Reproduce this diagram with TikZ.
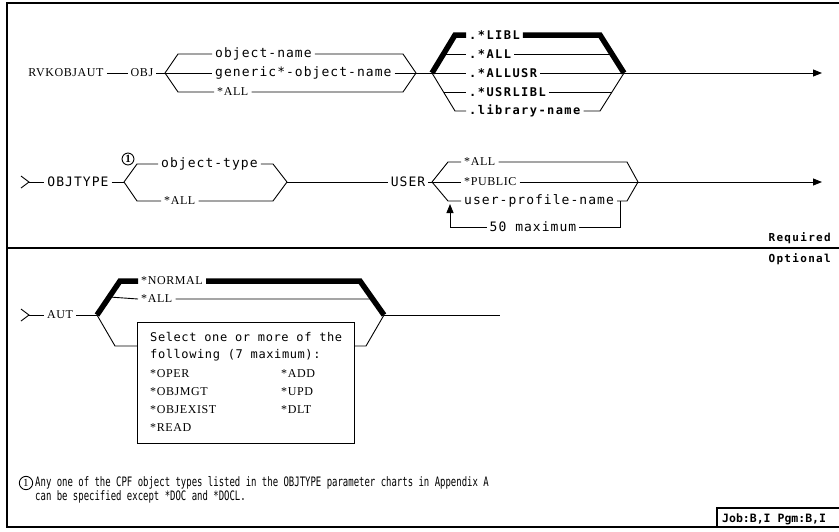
\documentclass[tikz,border=0pt]{standalone}
\usepackage{fontspec}
\setmainfont{Liberation Serif}
\newfontfamily\kwfont{Liberation Serif}[LetterSpace=5]
\newfontfamily\varfont{DejaVu Sans Mono}[LetterSpace=8]
\newfontfamily\boxfont{DejaVu Sans Mono}[LetterSpace=5]
\newfontfamily\dfltfont{DejaVu Sans Mono}[LetterSpace=12]
\newfontfamily\jobfont{DejaVu Sans Mono}
\newfontfamily\notefont{DejaVu Sans Mono}[FakeStretch=0.69]
\usetikzlibrary{arrows.meta, calc}

\begin{document}
\begin{tikzpicture}[x=1pt, y=-1pt,
			rail/.style={line width=0.9pt},
			heavy/.style={line width=5.5pt},
			frame/.style={line width=1.2pt},
			kw/.style={font=\kwfont\fontsize{12}{14}\selectfont, inner sep=3pt},
			var/.style={font=\varfont\fontsize{13}{15}\selectfont, inner sep=3pt},
			dflt/.style={font=\dfltfont\bfseries\fontsize{12}{14}\selectfont, inner sep=3pt},
			sel/.style={font=\boxfont\fontsize{12}{14}\selectfont, inner sep=0pt, anchor=west},
			note/.style={font=\notefont\fontsize{13}{15}\selectfont, inner sep=0pt, anchor=west},
			num/.style={circle, draw, line width=0.9pt, inner sep=1pt, font=\bfseries\fontsize{11}{11}\selectfont},
			>={Triangle[length=9pt,width=7pt]}]
			\useasboundingbox (0,0) rectangle (839,531);
			\clip (0,0) rectangle (839,531);
			% frame and divider
			\draw[frame] (7,3) rectangle (850,527);
			\coordinate (divL) at (7,248);
			\coordinate (divR) at (839,248);
			\draw[frame] (divL) -- (divR);
			\node[font=\dfltfont\bfseries\fontsize{11}{13}\selectfont, anchor=east, inner sep=0pt] (req) at (831,238) {Required};
			\node[font=\dfltfont\bfseries\fontsize{11}{13}\selectfont, anchor=east, inner sep=0pt] (opt) at (831,259) {Optional};

			% RVKOBJAUT -- OBJ
			\node[kw] (cmd) at (66,73) {RVKOBJAUT};
			\node[kw] (obj) at (142,73) {OBJ};
			\coordinate (oL) at (165,73);
			\coordinate (oR) at (416,73);
			\node[var, anchor=west] (oname) at (212,54) {object-name};
			\node[var, anchor=west] (ogen) at (212,73) {generic*-object-name};
			\node[kw, anchor=west] (oall) at (214,92) {*ALL};
			\draw[rail] (cmd) -- (obj);
			\draw[rail] (obj) -- (oL);
			\draw[rail] (oL) -- (178,54) -- (oname.west);
			\draw[rail] (oname.east) -- (403,54) -- (oR);
			\draw[rail] (oL) -- (ogen.west);
			\draw[rail] (ogen.east) -- (oR);
			\draw[rail] (oL) -- (178,92) -- (oall.west);
			\draw[rail] (oall.east) -- (403,92) -- (oR);

			% library qualifier
			\coordinate (lL) at (432,73);
			\coordinate (lR) at (624,73);
			\coordinate (lTL) at (455,35);
			\coordinate (lTR) at (600,35);
			\coordinate (lBL) at (455,111);
			\coordinate (lBR) at (600,111);
			\node[dflt, anchor=west] (libl) at (466,35) {.*LIBL};
			\node[dflt, anchor=west] (lall) at (466,54) {.*ALL};
			\node[dflt, anchor=west] (lallusr) at (466,73) {.*ALLUSR};
			\node[dflt, anchor=west] (lusr) at (466,92) {.*USRLIBL};
			\node[dflt, anchor=west] (lname) at (466,111) {.library-name};
			\draw[rail] (oR) -- (lL);
			\draw[heavy] (lL) -- (lTL) -- (libl.west);
			\draw[heavy] (libl.east) -- (lTR) -- (lR);
			\draw[rail] ($(lL)!.5!(lTL)$) -- (lall.west);
			\draw[rail] (lall.east) -- ($(lTR)!.5!(lR)$);
			\draw[rail] (lL) -- (lallusr.west);
			\draw[rail] (lallusr.east) -- (lR);
			\draw[rail] ($(lL)!.5!(lBL)$) -- (lusr.west);
			\draw[rail] (lusr.east) -- ($(lBR)!.5!(lR)$);
			\draw[rail] (lL) -- (lBL) -- (lname.west);
			\draw[rail] (lname.east) -- (lBR) -- (lR);
			\coordinate (end1) at (822,73);
			\draw[rail,->] (lR) -- (end1);

			% OBJTYPE
			\coordinate (s2) at (29,182);
			\draw[rail] (21,176) -- (s2) -- (21,188);
			\node[var] (otype) at (78,182) {OBJTYPE};
			\coordinate (tL) at (124,182);
			\coordinate (tR) at (287,182);
			\node[num] (fn) at (128,159) {1};
			\node[var, anchor=west] (ttype) at (158,164) {object-type};
			\node[kw, anchor=west] (tall) at (161,201) {*ALL};
			\draw[rail] (s2) -- (otype);
			\draw[rail] (otype) -- (tL);
			\draw[rail] (tL) -- (137,164) -- (ttype.west);
			\draw[rail] (ttype.east) -- (273,164) -- (tR);
			\draw[rail] (tL) -- (137,201) -- (tall.west);
			\draw[rail] (tall.east) -- (273,201) -- (tR);

			% USER
			\node[var] (user) at (408,182) {USER};
			\coordinate (uL) at (432,182);
			\coordinate (uR) at (638,182);
			\node[kw, anchor=west] (uall) at (461,162) {*ALL};
			\node[kw, anchor=west] (upub) at (461,182) {*PUBLIC};
			\node[var, anchor=west] (uprf) at (461,201) {user-profile-name};
			\node[var] (umax) at (533,227) {50 maximum};
			\draw[rail] (tR) -- (user);
			\draw[rail] (user) -- (uL);
			\draw[rail] (uL) -- (448,162) -- (uall.west);
			\draw[rail] (uall.east) -- (627,162) -- (uR);
			\draw[rail] (uL) -- (upub.west);
			\draw[rail] (upub.east) -- (uR);
			\draw[rail] (uL) -- (448,201) -- (uprf.west);
			\draw[rail] (uprf.east) -- (627,201) -- (uR);
			\coordinate (rep) at (620,201);
			\coordinate (repin) at (450,204);
			\draw[rail] (rep) -- (620,227) -- (umax.east);
			\draw[rail,->] (umax.west) -- (450,227) -- (repin);
			\coordinate (end2) at (822,182);
			\draw[rail,->] (uR) -- (end2);

			% AUT
			\coordinate (s3) at (29,315);
			\draw[rail] (21,309) -- (s3) -- (21,321);
			\node[kw] (aut) at (60,315) {AUT};
			\coordinate (aL) at (97,315);
			\coordinate (aR) at (384,315);
			\coordinate (aTL) at (120,281);
			\coordinate (aTR) at (360,281);
			\coordinate (aBL) at (115,346);
			\coordinate (aBR) at (366,346);
			\node[kw, anchor=west] (anorm) at (138,281) {*NORMAL};
			\node[kw, anchor=west] (aall) at (138,299) {*ALL};
			\node[draw, rail, anchor=north west, minimum width=217pt, minimum height=121pt, inner sep=0pt] (abox) at (137,322) {};
			\draw[rail] (s3) -- (aut);
			\draw[rail] (aut) -- (aL);
			\draw[heavy] (aL) -- (aTL) -- (anorm.west);
			\draw[heavy] (anorm.east) -- (aTR) -- (aR);
			\draw[rail] ($(aL)!.53!(aTL)$) -- (aall.west);
			\draw[rail] (aall.east) -- ($(aTR)!.53!(aR)$);
			\draw[rail] (aL) -- (aBL) -- (aBL -| abox.west);
			\draw[rail] (aBR -| abox.east) -- (aBR) -- (aR);
			\coordinate (end3) at (500,315);
			\draw[rail] (aR) -- (end3);
			\node[sel] (sel1) at (150,337) {Select one or more of the};
			\node[sel] (sel2) at (150,355) {following (7 maximum):};
			\node[kw, anchor=west, inner sep=0pt] (oper) at (150,374) {*OPER};
			\node[kw, anchor=west, inner sep=0pt] (add) at (281,374) {*ADD};
			\node[kw, anchor=west, inner sep=0pt] (objmgt) at (150,392) {*OBJMGT};
			\node[kw, anchor=west, inner sep=0pt] (upd) at (281,392) {*UPD};
			\node[kw, anchor=west, inner sep=0pt] (objexist) at (150,410) {*OBJEXIST};
			\node[kw, anchor=west, inner sep=0pt] (dlt) at (281,410) {*DLT};
			\node[kw, anchor=west, inner sep=0pt] (read) at (150,428) {*READ};

			% footnote
			\node[num, inner sep=1.5pt, font=\fontsize{11}{11}\selectfont] (fn2) at (26,483) {1};
			\node[note] (note1) at (35,483) {Any one of the CPF object types listed in the OBJTYPE parameter charts in Appendix A};
			\node[note] (note2) at (35,497) {can be specified except *DOC and *DOCL.};

			% job box
			\draw[frame] (717,508) rectangle (850,527);
			\node[font=\jobfont\bfseries\fontsize{11.5}{13}\selectfont, anchor=west, inner sep=0pt, text depth=0pt] (job) at (722,518) {Job:B,I Pgm:B,I};
		\end{tikzpicture}
\end{document}
